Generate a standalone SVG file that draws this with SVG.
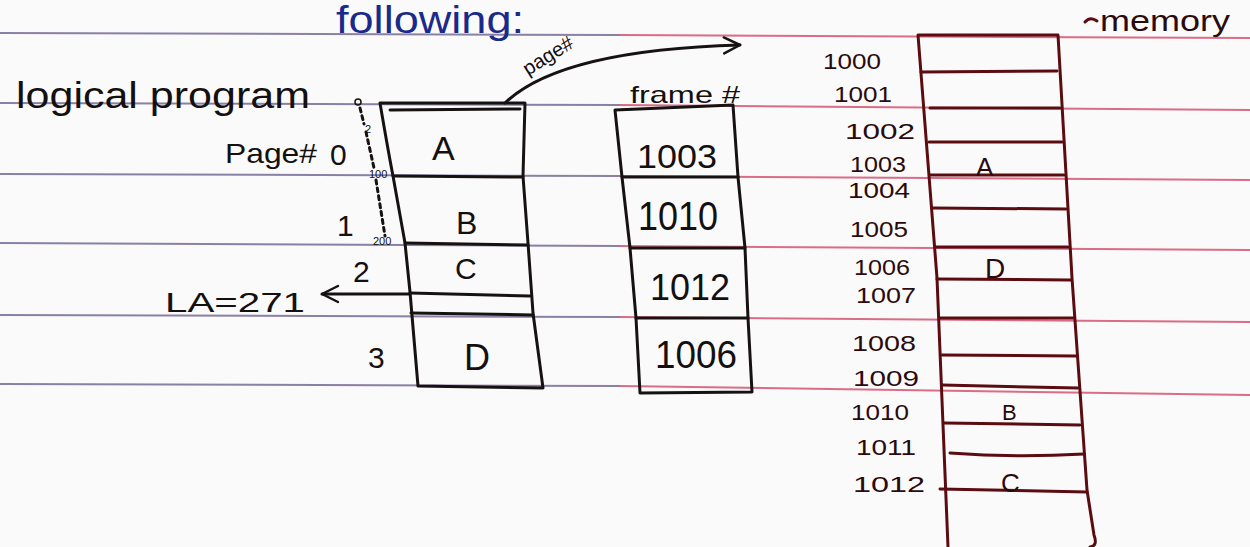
<svg xmlns="http://www.w3.org/2000/svg" width="1250" height="547" viewBox="0 0 1250 547">
  <defs>
    <style>
      .hand { font-family: "Liberation Sans", "Noto Sans", sans-serif; fill: #141010; }
      .ink { fill: none; stroke: #161212; stroke-width: 3; stroke-linecap: round; stroke-linejoin: round; }
      .mem { fill: none; stroke: #5a0c10; stroke-width: 3; stroke-linecap: round; stroke-linejoin: round; }
      .memtxt { font-family: "Liberation Sans", "Noto Sans", sans-serif; fill: #2a0a0c; }
      .rule-l { stroke: #6e6290; stroke-width: 2; opacity: 0.8; }
      .rule-r { stroke: #d24a6a; stroke-width: 2; opacity: 0.8; }
      .small { font-size: 11px; }
    </style>
    <marker id="open" viewBox="0 0 20 20" refX="18" refY="10" markerWidth="20" markerHeight="20" markerUnits="userSpaceOnUse" orient="auto">
      <path d="M2,2 L18,10 L2,18" fill="none" stroke="#161212" stroke-width="2.5" stroke-linecap="round" stroke-linejoin="round"/>
    </marker>
  </defs>

  <!-- paper -->
  <rect width="1250" height="547" fill="#fbfafa"/>

  <!-- ruled lines of the notebook page -->
  <g id="ruling">
    <line class="rule-l" x1="0" y1="33" x2="620" y2="35"/>
    <line class="rule-r" x1="620" y1="35" x2="1250" y2="38"/>
    <line class="rule-l" x1="0" y1="103" x2="620" y2="105"/>
    <line class="rule-r" x1="620" y1="105" x2="1250" y2="110"/>
    <line class="rule-l" x1="0" y1="174" x2="620" y2="176"/>
    <line class="rule-r" x1="620" y1="176" x2="1250" y2="180"/>
    <line class="rule-l" x1="0" y1="243" x2="620" y2="246"/>
    <line class="rule-r" x1="620" y1="246" x2="1250" y2="250"/>
    <line class="rule-l" x1="0" y1="315" x2="620" y2="317"/>
    <line class="rule-r" x1="620" y1="317" x2="1250" y2="322"/>
    <line class="rule-l" x1="0" y1="384" x2="620" y2="386"/>
    <line class="rule-r" x1="620" y1="386" x2="1250" y2="395"/>
  </g>

  <!-- heading -->
  <g id="heading">
    <text x="336" y="33" font-family="Liberation Sans, Noto Sans, sans-serif" font-size="38" fill="#1a2a8a" textLength="188" lengthAdjust="spacingAndGlyphs">following:</text>
  </g>

  <!-- logical program -->
  <g id="logical-program">
    <text class="hand" x="16" y="108" font-size="36" textLength="294" lengthAdjust="spacingAndGlyphs">logical program</text>
    <path class="ink" d="M380,103 L525,103 M380,103 Q388,150 393,176 Q400,215 405,243 L410,292 L418,386 L543,388 L533,313 L528,243 L523,176 L525,103"/>
    <path class="ink" d="M390,110 L520,109"/>
    <path class="ink" d="M393,176 L523,177"/>
    <path class="ink" d="M405,243 L528,245"/>
    <path class="ink" stroke-width="4" d="M410,293 L530,296"/>
    <path class="ink" d="M411,313 L533,315"/>
    <text class="hand" x="432" y="160" font-size="34">A</text>
    <text class="hand" x="456" y="234" font-size="32">B</text>
    <text class="hand" x="455" y="279" font-size="30">C</text>
    <text class="hand" x="464" y="370" font-size="36">D</text>
  </g>

  <!-- page numbers and offsets -->
  <g id="page-numbers">
    <text class="hand" x="225" y="163" font-size="28" textLength="92" lengthAdjust="spacingAndGlyphs">Page#</text>
    <text class="hand" x="330" y="165" font-size="30">0</text>
    <text class="hand" x="337" y="236" font-size="30">1</text>
    <text class="hand" x="353" y="282" font-size="30">2</text>
    <text class="hand" x="368" y="368" font-size="30">3</text>
    <circle cx="358" cy="102" r="3" fill="none" stroke="#161212" stroke-width="1.5"/>
    <path class="ink" stroke-width="1.5" stroke-dasharray="4 4" d="M360,108 L364,124 M366,132 L374,168 M376,180 L385,236"/>
    <text class="hand small" x="365" y="133">2</text>
    <text class="hand small" x="369" y="178">100</text>
    <text class="hand small" x="373" y="245">200</text>
  </g>

  <!-- logical address -->
  <g id="logical-address">
    <text class="hand" x="165" y="312" font-size="28" textLength="140" lengthAdjust="spacingAndGlyphs">LA=271</text>
  </g>

  <!-- page table -->
  <g id="page-table">
    <text class="hand" x="630" y="103" font-size="24" textLength="110" lengthAdjust="spacingAndGlyphs">frame #</text>
    <path class="ink" d="M615,110 L733,105 L738,177 L745,248 L748,318 L752,392 L640,393 L636,318 L630,248 L622,177 Z"/>
    <path class="ink" d="M622,177 L738,177"/>
    <path class="ink" d="M630,248 L745,248"/>
    <path class="ink" d="M636,318 L748,318"/>
    <text class="hand" x="637" y="168" font-size="34" textLength="80" lengthAdjust="spacingAndGlyphs">1003</text>
    <text class="hand" x="638" y="230" font-size="40" textLength="80" lengthAdjust="spacingAndGlyphs">1010</text>
    <text class="hand" x="650" y="300" font-size="36" textLength="80" lengthAdjust="spacingAndGlyphs">1012</text>
    <text class="hand" x="655" y="368" font-size="38" textLength="82" lengthAdjust="spacingAndGlyphs">1006</text>
  </g>

  <!-- physical memory -->
  <g id="memory">
    <text class="memtxt" x="1100" y="31" font-size="30" textLength="130" lengthAdjust="spacingAndGlyphs">memory</text>
    <path class="mem" stroke-width="2.5" d="M1085,22 Q1090,16 1097,21"/>
    <path class="mem" d="M918,35 L1058,35 L1072,278 L1087,490 L1094,535 Q1098,546 1090,547 M918,35 L937,278 L948,547"/>
    <path class="mem" d="M921,72 L1057,71"/>
    <path class="mem" d="M930,108 L1060,108"/>
    <path class="mem" d="M929,142 L1062,142"/>
    <path class="mem" d="M930,175 L1064,175"/>
    <path class="mem" d="M933,208 L1066,209"/>
    <path class="mem" d="M935,247 L1068,247"/>
    <path class="mem" d="M937,279 L1071,280"/>
    <path class="mem" d="M940,318 L1074,318"/>
    <path class="mem" d="M942,355 L1076,356"/>
    <path class="mem" d="M942,385 L1078,388"/>
    <path class="mem" d="M944,423 L1080,425"/>
    <path class="mem" d="M950,453 Q1015,458 1084,454"/>
    <path class="mem" d="M940,489 L1087,492"/>
    <text class="memtxt" x="976" y="176" font-size="26">A</text>
    <text class="memtxt" x="985" y="278" font-size="28">D</text>
    <text class="memtxt" x="1002" y="420" font-size="22">B</text>
    <text class="memtxt" x="1001" y="492" font-size="26">C</text>
    <g font-size="22">
      <text class="memtxt" x="823" y="69" textLength="58" lengthAdjust="spacingAndGlyphs">1000</text>
      <text class="memtxt" x="834" y="102" textLength="58" lengthAdjust="spacingAndGlyphs">1001</text>
      <text class="memtxt" x="845" y="139" textLength="70" lengthAdjust="spacingAndGlyphs">1002</text>
      <text class="memtxt" x="850" y="172" textLength="56" lengthAdjust="spacingAndGlyphs">1003</text>
      <text class="memtxt" x="848" y="198" textLength="62" lengthAdjust="spacingAndGlyphs">1004</text>
      <text class="memtxt" x="850" y="237" textLength="58" lengthAdjust="spacingAndGlyphs">1005</text>
      <text class="memtxt" x="854" y="275" textLength="56" lengthAdjust="spacingAndGlyphs">1006</text>
      <text class="memtxt" x="856" y="303" textLength="60" lengthAdjust="spacingAndGlyphs">1007</text>
      <text class="memtxt" x="852" y="351" textLength="64" lengthAdjust="spacingAndGlyphs">1008</text>
      <text class="memtxt" x="853" y="386" textLength="66" lengthAdjust="spacingAndGlyphs">1009</text>
      <text class="memtxt" x="851" y="420" textLength="58" lengthAdjust="spacingAndGlyphs">1010</text>
      <text class="memtxt" x="856" y="455" textLength="60" lengthAdjust="spacingAndGlyphs">1011</text>
      <text class="memtxt" x="853" y="492" textLength="72" lengthAdjust="spacingAndGlyphs">1012</text>
    </g>
  </g>

  <!-- arrows -->
  <g id="connectors">
    <path class="ink" d="M505,103 Q560,50 740,45" marker-end="url(#open)"/>
    <text class="hand" x="528" y="76" font-size="20" transform="rotate(-32 528 76)">page#</text>
    <path class="ink" d="M410,294 L322,294" marker-end="url(#open)"/>
  </g>
</svg>
